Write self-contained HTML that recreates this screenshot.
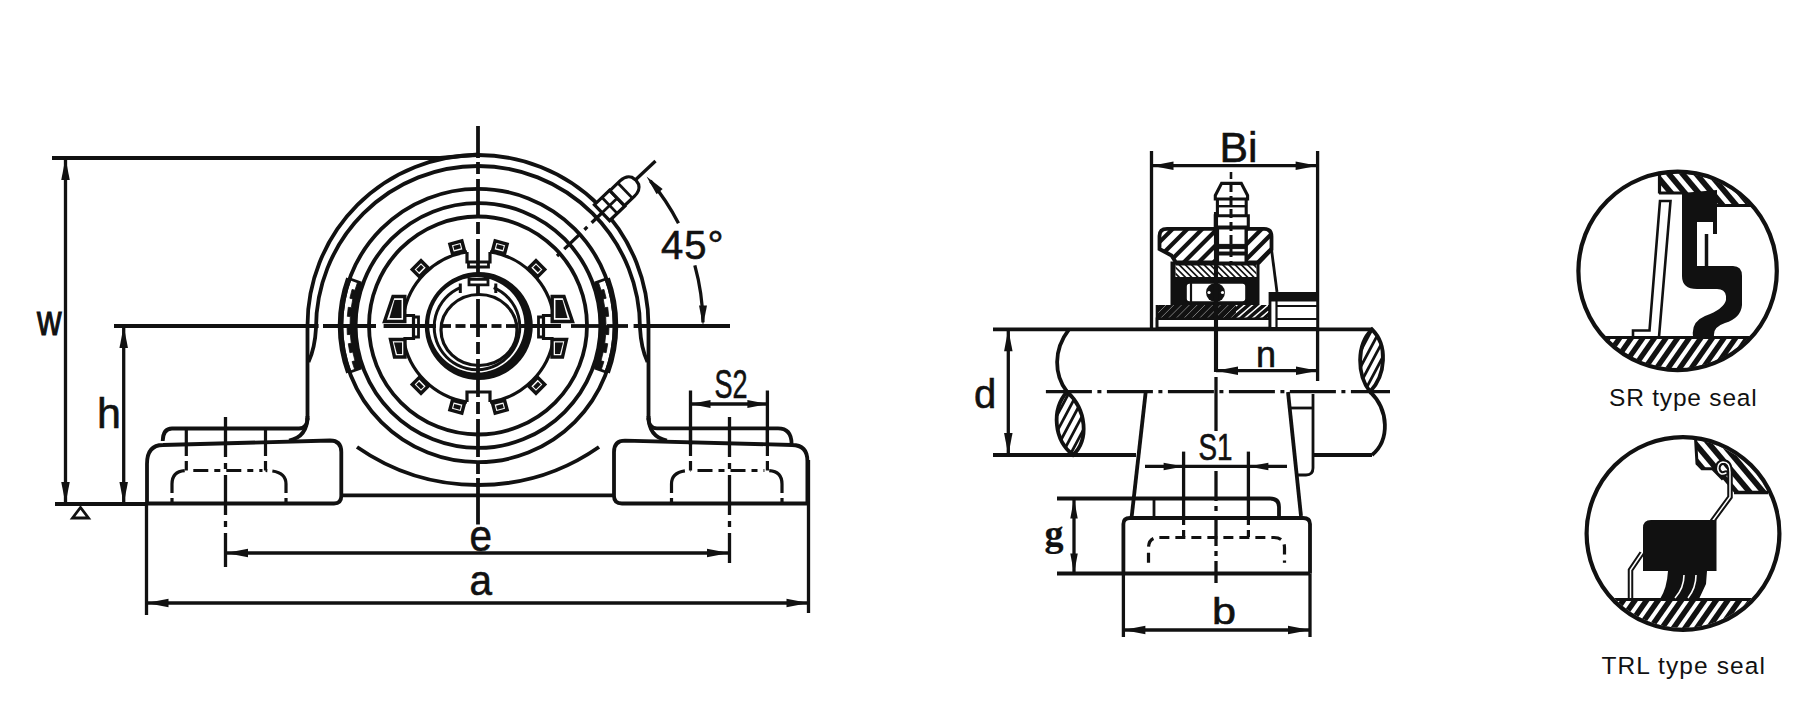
<!DOCTYPE html>
<html><head><meta charset="utf-8"><style>
html,body{margin:0;padding:0;background:#fff;}
svg{display:block;}
</style></head><body>
<svg width="1817" height="713" viewBox="0 0 1817 713" stroke="#111" fill="none" stroke-linecap="butt">
<rect width="1817" height="713" fill="#fff" stroke="none"/>
<defs><pattern id="h1" width="8" height="8" patternUnits="userSpaceOnUse" patternTransform="rotate(45)"><rect width="3.4" height="8" fill="#111"/></pattern><pattern id="h2" width="4.5" height="4.5" patternUnits="userSpaceOnUse" patternTransform="rotate(45)"><rect width="2.6" height="4.5" fill="#111"/></pattern><pattern id="h3" width="10" height="10" patternUnits="userSpaceOnUse" patternTransform="rotate(-50)"><rect width="4" height="10" fill="#111"/></pattern></defs>
<path d="M52,158 L440,158 L478,154.5" stroke-width="3.8" fill="none" />
<line x1="65.5" y1="158" x2="65.5" y2="504" stroke-width="3.3" />
<path d="M65.5,158 L69.75,180 L61.25,180 Z" fill="#111" stroke="none"/>
<path d="M65.5,504 L61.25,482 L69.75,482 Z" fill="#111" stroke="none"/>
<text x="37" y="334.5" font-family="&quot;Liberation Sans&quot;, sans-serif" font-size="43" fill="#111" stroke="#111" stroke-width="1.1" textLength="24.5" lengthAdjust="spacingAndGlyphs">w</text>
<line x1="123.7" y1="326" x2="123.7" y2="504" stroke-width="3.3" />
<path d="M123.7,326 L127.95,348 L119.45,348 Z" fill="#111" stroke="none"/>
<path d="M123.7,504 L119.45,482 L127.95,482 Z" fill="#111" stroke="none"/>
<text x="97" y="427.6" font-family="&quot;Liberation Sans&quot;, sans-serif" font-size="43" fill="#111" stroke="#111" stroke-width="0.6" >h</text>
<line x1="114" y1="326" x2="318.6" y2="326" stroke-width="3.8" />
<line x1="323" y1="326" x2="376" y2="326" stroke-width="3.8" />
<line x1="383.6" y1="326" x2="436" y2="326" stroke-width="3.8" />
<line x1="441" y1="326" x2="451" y2="326" stroke-width="3.8" />
<line x1="455.5" y1="326" x2="465.5" y2="326" stroke-width="3.8" />
<line x1="470" y1="326" x2="487" y2="326" stroke-width="3.8" />
<line x1="491.5" y1="326" x2="501.5" y2="326" stroke-width="3.8" />
<line x1="506" y1="326" x2="516" y2="326" stroke-width="3.8" />
<line x1="520" y1="326" x2="561" y2="326" stroke-width="3.8" />
<line x1="571" y1="326" x2="603" y2="326" stroke-width="3.8" />
<line x1="607" y1="326" x2="628" y2="326" stroke-width="3.8" />
<line x1="633.6" y1="326" x2="730" y2="326" stroke-width="3.8" />
<line x1="55" y1="504" x2="147" y2="504" stroke-width="3.8" />
<path d="M72.5,518 L80.5,507.5 L88.5,518 Z" stroke-width="2.8" fill="none" />
<line x1="478" y1="126" x2="478" y2="158" stroke-width="3.8" />
<line x1="478" y1="162" x2="478" y2="480" stroke-width="3.8" stroke-dasharray="12 5 38 5"/>
<line x1="478" y1="478" x2="478" y2="524.5" stroke-width="3.8" />
<path d="M307.5,420 L307.5,325.5 A170.5,170.5 0 0 1 648.5,325.5 L648.5,420" stroke-width="3.8" fill="none" />
<path d="M308.5,362 Q315,348 316,328 A162,162 0 0 1 640,328 Q641,348 647.5,362" stroke-width="3.8" fill="none" />
<circle cx="478" cy="325.5" r="136.7" stroke-width="3.8" fill="none" />
<circle cx="478" cy="325.5" r="122.4" stroke-width="3.8" fill="none" />
<circle cx="478" cy="325.5" r="109" stroke-width="3.8" fill="none" />
<path d="M357,447 A211.6,211.6 0 0 0 599,447" stroke-width="3.8" fill="none" />
<path d="M307.5,416 Q307.5,437 289,440.5" stroke-width="3.8" fill="none" />
<path d="M648.5,416 Q648.5,437 667,440.5" stroke-width="3.8" fill="none" />
<path d="M307.5,418 Q307.5,428.5 299,428.5 L172,428.5 Q163,428.5 162.7,441" stroke-width="3.8" fill="none" />
<path d="M648.5,418 Q648.5,428.4 657,428.4 L778,428.4 Q791.5,428.4 791.6,444" stroke-width="3.8" fill="none" />
<path d="M147,504 L147,464 Q147,445 163,445 L330,440.5 Q341.3,440.5 341.3,452 L341.3,496 Q341.3,503.5 334,503.5 L147,503.5" stroke-width="3.8" fill="none" />
<path d="M614,496 L614,452 Q614,440.6 625,440.6 L792,445 Q807.4,445 807.4,461 L807.4,503.5 L622,503.5 Q614,503.5 614,496" stroke-width="3.8" fill="none" />
<line x1="341" y1="495.3" x2="614" y2="495.3" stroke-width="3.8" />
<line x1="186.3" y1="428.5" x2="186.3" y2="456" stroke-width="3.1999999999999997" />
<line x1="265.5" y1="428.5" x2="265.5" y2="456" stroke-width="3.1999999999999997" />
<line x1="186.3" y1="461" x2="186.3" y2="470.5" stroke-width="3.1999999999999997" />
<line x1="265.5" y1="461" x2="265.5" y2="470.5" stroke-width="3.1999999999999997" />
<path d="M172,503 L172,484 Q172,470.5 186.3,470.5" stroke-width="3.1999999999999997" fill="none" stroke-dasharray="5 5 30"/>
<path d="M286,503 L286,484 Q286,470.5 265.5,470.5" stroke-width="3.1999999999999997" fill="none" stroke-dasharray="5 5 30"/>
<path d="M193.3,470.5 L262.5,470.5" stroke-width="3.1999999999999997" fill="none" stroke-dasharray="15 6 6 6"/>
<line x1="690.5" y1="428.5" x2="690.5" y2="456" stroke-width="3.1999999999999997" />
<line x1="767.4" y1="428.5" x2="767.4" y2="456" stroke-width="3.1999999999999997" />
<line x1="690.5" y1="461" x2="690.5" y2="470.5" stroke-width="3.1999999999999997" />
<line x1="767.4" y1="461" x2="767.4" y2="470.5" stroke-width="3.1999999999999997" />
<path d="M671.5,503 L671.5,484 Q671.5,470.5 690.5,470.5" stroke-width="3.1999999999999997" fill="none" stroke-dasharray="5 5 30"/>
<path d="M782,503 L782,484 Q782,470.5 767.4,470.5" stroke-width="3.1999999999999997" fill="none" stroke-dasharray="5 5 30"/>
<path d="M697.5,470.5 L764.4,470.5" stroke-width="3.1999999999999997" fill="none" stroke-dasharray="15 6 6 6"/>
<line x1="225.5" y1="417" x2="225.5" y2="567" stroke-width="3.3" stroke-dasharray="40 6 6 6"/>
<line x1="729.5" y1="417" x2="729.5" y2="563" stroke-width="3.3" stroke-dasharray="40 6 6 6"/>
<line x1="226" y1="553" x2="729" y2="553" stroke-width="3.3" />
<path d="M226,553 L248,548.75 L248,557.25 Z" fill="#111" stroke="none"/>
<path d="M729,553 L707,557.25 L707,548.75 Z" fill="#111" stroke="none"/>
<text x="469.5" y="551" font-family="&quot;Liberation Sans&quot;, sans-serif" font-size="44" fill="#111" stroke="#111" stroke-width="0.6" textLength="22.5" lengthAdjust="spacingAndGlyphs">e</text>
<line x1="146.5" y1="504" x2="146.5" y2="615" stroke-width="3.3" />
<line x1="808.5" y1="460" x2="808.5" y2="613" stroke-width="3.3" />
<line x1="146.5" y1="603" x2="808.5" y2="603" stroke-width="3.3" />
<path d="M146.5,603 L168.5,598.75 L168.5,607.25 Z" fill="#111" stroke="none"/>
<path d="M808.5,603 L786.5,607.25 L786.5,598.75 Z" fill="#111" stroke="none"/>
<text x="469.5" y="594.5" font-family="&quot;Liberation Sans&quot;, sans-serif" font-size="43" fill="#111" stroke="#111" stroke-width="0.6" textLength="22.5" lengthAdjust="spacingAndGlyphs">a</text>
<line x1="690.5" y1="390.5" x2="690.5" y2="445" stroke-width="3.3" />
<line x1="767.4" y1="390.5" x2="767.4" y2="445" stroke-width="3.3" />
<line x1="690.5" y1="404" x2="767.4" y2="404" stroke-width="3.3" />
<path d="M690.5,404 L710.5,400 L710.5,408 Z" fill="#111" stroke="none"/>
<path d="M767.4,404 L747.4,408 L747.4,400 Z" fill="#111" stroke="none"/>
<text x="714.5" y="397.5" font-family="&quot;Liberation Sans&quot;, sans-serif" font-size="40" fill="#111" stroke="#111" stroke-width="0.6" textLength="33" lengthAdjust="spacingAndGlyphs">S2</text>
<path d="M607.21,372.53 A137.5,137.5 0 0 0 607.21,278.47" stroke-width="5.5" fill="none" />
<path d="M601.1,370.3 L603.93,361.61 L601.04,360.78 L603.2,352.11 L606.14,352.74 L607.73,343.73 L604.75,343.31 L605.69,334.43 L608.68,334.64 L609,325.5 L606,325.5 L605.69,316.57 L608.68,316.36 L607.73,307.27 L604.75,307.69 L603.2,298.89 L606.14,298.26 L603.93,289.39 L601.04,290.22 L598.28,281.72 L593.58,283.43 L596.24,291.6 L598.31,299.93 L599.8,308.38 L600.7,316.92 L601,325.5 L600.7,334.08 L599.8,342.62 L598.31,351.07 L596.24,359.4 L593.58,367.57 Z" stroke-width="0.8" fill="#111" />
<line x1="605.8" y1="372.01" x2="594.52" y2="367.91" stroke-width="2.8" />
<line x1="605.8" y1="278.99" x2="594.52" y2="283.09" stroke-width="2.8" />
<path d="M348.79,372.53 A137.5,137.5 0 0 1 348.79,278.47" stroke-width="5.5" fill="none" />
<path d="M354.9,370.3 L352.07,361.61 L354.96,360.78 L352.8,352.11 L349.86,352.74 L348.27,343.73 L351.25,343.31 L350.31,334.43 L347.32,334.64 L347,325.5 L350,325.5 L350.31,316.57 L347.32,316.36 L348.27,307.27 L351.25,307.69 L352.8,298.89 L349.86,298.26 L352.07,289.39 L354.96,290.22 L357.72,281.72 L362.42,283.43 L359.76,291.6 L357.69,299.93 L356.2,308.38 L355.3,316.92 L355,325.5 L355.3,334.08 L356.2,342.62 L357.69,351.07 L359.76,359.4 L362.42,367.57 Z" stroke-width="0.8" fill="#111" />
<line x1="350.2" y1="372.01" x2="361.48" y2="367.91" stroke-width="2.8" />
<line x1="350.2" y1="278.99" x2="361.48" y2="283.09" stroke-width="2.8" />
<path d="M553.62,315.5 A76,76 0 0 0 490,251.88" stroke-width="3.1999999999999997" fill="none" />
<path d="M467,251.88 A76,76 0 0 0 403.38,315.5" stroke-width="3.1999999999999997" fill="none" />
<path d="M403.38,338.5 A76,76 0 0 0 467,402.12" stroke-width="3.1999999999999997" fill="none" />
<path d="M490,402.12 A76,76 0 0 0 553.62,338.5" stroke-width="3.1999999999999997" fill="none" />
<path d="M553.62,338.5 L543.5,338.5 L543.5,315.5 L553.62,315.5" stroke-width="3.1999999999999997" fill="none" />
<path d="M543.5,337 L538.5,337 L538.5,317 L543.5,317" stroke-width="2.8" fill="none" />
<path d="M490,251.88 L490,262 L467,262 L467,251.88" stroke-width="3.1999999999999997" fill="none" />
<path d="M488.5,262 L488.5,267 L468.5,267 L468.5,262" stroke-width="2.8" fill="none" />
<path d="M403.38,315.5 L413.5,315.5 L413.5,338.5 L403.38,338.5" stroke-width="3.1999999999999997" fill="none" />
<path d="M413.5,317 L418.5,317 L418.5,337 L413.5,337" stroke-width="2.8" fill="none" />
<path d="M467,402.12 L467,392 L490,392 L490,402.12" stroke-width="3.1999999999999997" fill="none" />
<path d="M504.55,253.75 L507.14,244.09 L495.16,240.88 L492.57,250.54 Z" stroke-width="3.4" fill="#fff" />
<path d="M502.67,249.93 L503.71,246.07 L497.14,244.31 L496.1,248.17 Z" stroke-width="0.1" fill="#111" />
<path d="M464.43,250.54 L461.84,240.88 L449.86,244.09 L452.45,253.75 Z" stroke-width="3.4" fill="#fff" />
<path d="M460.9,248.17 L459.86,244.31 L453.29,246.07 L454.33,249.93 Z" stroke-width="0.1" fill="#111" />
<path d="M452.45,400.25 L449.86,409.91 L461.84,413.12 L464.43,403.46 Z" stroke-width="3.4" fill="#fff" />
<path d="M454.33,404.07 L453.29,407.93 L459.86,409.69 L460.9,405.83 Z" stroke-width="0.1" fill="#111" />
<path d="M492.57,403.46 L495.16,413.12 L507.14,409.91 L504.55,400.25 Z" stroke-width="3.4" fill="#fff" />
<path d="M496.1,405.83 L497.14,409.69 L503.71,407.93 L502.67,404.07 Z" stroke-width="0.1" fill="#111" />
<path d="M537.68,276.58 L544.76,269.51 L535.99,260.74 L528.92,267.82 Z" stroke-width="3.4" fill="#fff" />
<path d="M537.97,272.34 L540.8,269.51 L535.99,264.7 L533.16,267.53 Z" stroke-width="0.1" fill="#111" />
<path d="M428.08,267.82 L421.01,260.74 L412.24,269.51 L419.32,276.58 Z" stroke-width="3.4" fill="#fff" />
<path d="M423.84,267.53 L421.01,264.7 L416.2,269.51 L419.03,272.34 Z" stroke-width="0.1" fill="#111" />
<path d="M419.32,377.42 L412.24,384.49 L421.01,393.26 L428.08,386.18 Z" stroke-width="3.4" fill="#fff" />
<path d="M419.03,381.66 L416.2,384.49 L421.01,389.3 L423.84,386.47 Z" stroke-width="0.1" fill="#111" />
<path d="M528.92,386.18 L535.99,393.26 L544.76,384.49 L537.68,377.42 Z" stroke-width="3.4" fill="#fff" />
<path d="M533.16,386.47 L535.99,389.3 L540.8,384.49 L537.97,381.66 Z" stroke-width="0.1" fill="#111" />
<path d="M393,296.5 L404.8,296.5 L404.8,321.5 L384.5,321.5 Z" stroke-width="3.4" fill="#fff" />
<path d="M394.5,300 L401.5,300 L401.5,318 L389.5,318 Z" stroke-width="0.1" fill="#111" />
<path d="M390.5,339.5 L405,339.5 L405,357 L394.5,357 Z" stroke-width="3.4" fill="#fff" />
<path d="M394,342.5 L402,342.5 L402,354 L397,354 Z" stroke-width="0.1" fill="#111" />
<path d="M564,296.5 L552.2,296.5 L552.2,321.5 L572.5,321.5 Z" stroke-width="3.4" fill="#fff" />
<path d="M562.5,300 L555.5,300 L555.5,318 L567.5,318 Z" stroke-width="0.1" fill="#111" />
<path d="M566.5,339.5 L552,339.5 L552,357 L562.5,357 Z" stroke-width="3.4" fill="#fff" />
<path d="M563,342.5 L555,342.5 L555,354 L560,354 Z" stroke-width="0.1" fill="#111" />
<path d="M424.8,326.1 A53.9,53.9 0 1 0 532.8,326.1 A53.9,53.9 0 1 0 424.8,326.1 Z M429.2,324.9 A47.6,47.6 0 1 1 524.4,324.9 A47.6,47.6 0 1 1 429.2,324.9 Z" fill="#111" fill-rule="evenodd" stroke="none"/>
<path d="M460.28,287.6 A42.8,42.8 0 1 0 493.72,287.6" stroke-width="3" fill="none" />
<line x1="460.3" y1="283.5" x2="460.3" y2="293" stroke-width="3" />
<line x1="495.8" y1="283.5" x2="495.8" y2="293" stroke-width="3" />
<ellipse cx="479" cy="330" rx="38" ry="35.5" stroke-width="3.2" fill="none"/>
<path d="M469,279.3 L488,279.3 L488,284.8 L469,284.8 Z" stroke-width="2.8" fill="#fff" />
<line x1="557" y1="256" x2="606" y2="209" stroke-width="3.3" stroke-dasharray="4 6 22 6"/>
<line x1="630" y1="185" x2="655.5" y2="161" stroke-width="3.3" />
<g transform="translate(621.5,194) rotate(-43.8)">
<path d="M-27,-11 L-6,-11 L-6,11 L-27,11 Z" stroke-width="3.1999999999999997" fill="#fff" />
<path d="M-6,-10.5 L8,-10.5 Q16,-10.5 19,-5 L20,0 L19,5 Q16,10.5 8,10.5 L-6,10.5 Z" stroke-width="3.1999999999999997" fill="#fff" />
<line x1="-16.5" y1="-11" x2="-16.5" y2="11" stroke-width="2.8" />
<line x1="5" y1="-10.5" x2="5" y2="10.5" stroke-width="2.8" />
<line x1="-27" y1="0" x2="-6" y2="0" stroke-width="2.8" />
</g>
<path d="M650.36,180.87 A225,225 0 0 1 678.48,223.35" stroke-width="3.3" fill="none" />
<path d="M694.82,265.37 A225,225 0 0 1 702.98,322.36" stroke-width="3.3" fill="none" />
<path d="M646.52,176.41 L662.66,188.88 L656.62,194.13 Z" fill="#111" stroke="none"/>
<path d="M703,325.5 L699,305.5 L707,305.5 Z" fill="#111" stroke="none"/>
<text x="661" y="258.5" font-family="&quot;Liberation Sans&quot;, sans-serif" font-size="40" fill="#111" stroke="#111" stroke-width="0.6" letter-spacing="1">45°</text>
<line x1="1151.5" y1="151" x2="1151.5" y2="330" stroke-width="3.3" />
<line x1="1317.6" y1="151" x2="1317.6" y2="381" stroke-width="3.3" />
<line x1="1151.5" y1="165.7" x2="1317.6" y2="165.7" stroke-width="3.3" />
<path d="M1151.5,165.7 L1173.5,161.45 L1173.5,169.95 Z" fill="#111" stroke="none"/>
<path d="M1317.6,165.7 L1295.6,169.95 L1295.6,161.45 Z" fill="#111" stroke="none"/>
<text x="1219.5" y="162" font-family="&quot;Liberation Sans&quot;, sans-serif" font-size="42" fill="#111" stroke="#111" stroke-width="0.6" textLength="38" lengthAdjust="spacingAndGlyphs">Bi</text>
<line x1="993" y1="329.3" x2="1372" y2="329.3" stroke-width="3.8" />
<line x1="993" y1="455" x2="1136" y2="455" stroke-width="3.8" />
<line x1="1314" y1="455" x2="1372" y2="455" stroke-width="3.8" />
<line x1="1043" y1="391.7" x2="1390" y2="391.7" stroke-width="3.3" stroke-dasharray="46 5.5 4 5.5" stroke-dashoffset="58.1"/>
<line x1="1008.3" y1="329.3" x2="1008.3" y2="455" stroke-width="3.3" />
<path d="M1008.3,329.3 L1012.55,351.3 L1004.05,351.3 Z" fill="#111" stroke="none"/>
<path d="M1008.3,455 L1004.05,433 L1012.55,433 Z" fill="#111" stroke="none"/>
<text x="974" y="408" font-family="&quot;Liberation Sans&quot;, sans-serif" font-size="40" fill="#111" stroke="#111" stroke-width="0.6" >d</text>
<line x1="1216" y1="370.7" x2="1318" y2="370.7" stroke-width="3.3" />
<path d="M1216,370.7 L1238,366.45 L1238,374.95 Z" fill="#111" stroke="none"/>
<path d="M1318,370.7 L1296,374.95 L1296,366.45 Z" fill="#111" stroke="none"/>
<text x="1256" y="366.5" font-family="&quot;Liberation Sans&quot;, sans-serif" font-size="36" fill="#111" stroke="#111" stroke-width="0.6" >n</text>
<line x1="1216" y1="377" x2="1216" y2="431" stroke-width="3.3" />
<line x1="1216" y1="471" x2="1216" y2="583" stroke-width="3.3" stroke-dasharray="30 5 5 5"/>
<line x1="1145.7" y1="392" x2="1131.7" y2="516.4" stroke-width="3.8" />
<line x1="1288" y1="392" x2="1301" y2="516" stroke-width="3.8" />
<path d="M1123.4,573.5 L1123.4,524 Q1123.4,518 1130,518 L1303,518 Q1310,518 1310,524 L1310,573.5" stroke-width="3.8" fill="none" />
<line x1="1057" y1="573.5" x2="1310" y2="573.5" stroke-width="3.8" />
<path d="M1057,498.5 L1270,498.5 Q1279,498.5 1279,507 L1279,516" stroke-width="3.8" fill="none" />
<line x1="1154" y1="498.5" x2="1154" y2="516" stroke-width="2.8" />
<line x1="1074" y1="498.5" x2="1074" y2="573.5" stroke-width="3.3" />
<path d="M1074,498.5 L1077.75,518.5 L1070.25,518.5 Z" fill="#111" stroke="none"/>
<path d="M1074,573.5 L1070.25,553.5 L1077.75,553.5 Z" fill="#111" stroke="none"/>
<text x="1044.5" y="545.5" font-family="&quot;Liberation Serif&quot;, serif" font-size="38" fill="#111" stroke="#111" stroke-width="0.2" font-weight="bold">g</text>
<line x1="1183.6" y1="451.6" x2="1183.6" y2="518" stroke-width="3.3" />
<line x1="1248.4" y1="451.6" x2="1248.4" y2="518" stroke-width="3.3" />
<line x1="1145" y1="466.4" x2="1287" y2="466.4" stroke-width="3.3" />
<path d="M1183.6,466.4 L1163.6,470.15 L1163.6,462.65 Z" fill="#111" stroke="none"/>
<path d="M1248.4,466.4 L1268.4,462.65 L1268.4,470.15 Z" fill="#111" stroke="none"/>
<text x="1198.5" y="459.5" font-family="&quot;Liberation Sans&quot;, sans-serif" font-size="36" fill="#111" stroke="#111" stroke-width="0.6" textLength="34" lengthAdjust="spacingAndGlyphs">S1</text>
<path d="M1183.6,518 L1183.6,537.5 M1248.4,518 L1248.4,537.5" stroke-width="3.1999999999999997" fill="none" stroke-dasharray="7 5"/>
<path d="M1148.5,562.7 L1148.5,548 Q1148.5,537.5 1159,537.5 L1274,537.5 Q1284.5,537.5 1284.5,548 L1284.5,562.7" stroke-width="3.1999999999999997" fill="none" stroke-dasharray="10 6"/>
<line x1="1123.4" y1="573.5" x2="1123.4" y2="637" stroke-width="3.3" />
<line x1="1310" y1="573.5" x2="1310" y2="637" stroke-width="3.3" />
<line x1="1123.4" y1="630" x2="1310" y2="630" stroke-width="3.3" />
<path d="M1123.4,630 L1145.4,625.75 L1145.4,634.25 Z" fill="#111" stroke="none"/>
<path d="M1310,630 L1288,634.25 L1288,625.75 Z" fill="#111" stroke="none"/>
<text x="1212" y="624" font-family="&quot;Liberation Sans&quot;, sans-serif" font-size="37" fill="#111" stroke="#111" stroke-width="0.6" textLength="24" lengthAdjust="spacingAndGlyphs">b</text>
<line x1="1313" y1="394" x2="1313" y2="468" stroke-width="2.8" />
<line x1="1290" y1="408" x2="1312" y2="408" stroke-width="2.8" />
<path d="M1298,475 L1306,475 Q1313,475 1313,468" stroke-width="2.8" fill="none" />
<defs><pattern id="h4" width="5" height="5" patternUnits="userSpaceOnUse" patternTransform="rotate(-45)"><rect width="5" height="5" fill="#fff"/><rect width="2.4" height="5" fill="#111"/></pattern><pattern id="h5" width="6" height="6" patternUnits="userSpaceOnUse" patternTransform="rotate(45)"><rect width="6" height="6" fill="#111"/><rect width="1.3" height="6" fill="#fff"/></pattern></defs>
<rect x="1171" y="262" width="88" height="44" fill="#111"/>
<clipPath id="hc1"><path d="M1175.5,264 L1256.5,264 L1256.5,277 L1175.5,277 Z"/></clipPath>
<g clip-path="url(#hc1)">
<rect x="1175" y="263" width="82" height="15" fill="#fff" stroke="none"/>
<line x1="1219.28" y1="149.33" x2="1337.17" y2="267.22" stroke-width="1.7" stroke="#111"/>
<line x1="1216.17" y1="152.44" x2="1334.06" y2="270.33" stroke-width="1.7" stroke="#111"/>
<line x1="1213.06" y1="155.55" x2="1330.95" y2="273.44" stroke-width="1.7" stroke="#111"/>
<line x1="1209.95" y1="158.66" x2="1327.84" y2="276.55" stroke-width="1.7" stroke="#111"/>
<line x1="1206.84" y1="161.77" x2="1324.73" y2="279.66" stroke-width="1.7" stroke="#111"/>
<line x1="1203.72" y1="164.89" x2="1321.61" y2="282.78" stroke-width="1.7" stroke="#111"/>
<line x1="1200.61" y1="168" x2="1318.5" y2="285.89" stroke-width="1.7" stroke="#111"/>
<line x1="1197.5" y1="171.11" x2="1315.39" y2="289" stroke-width="1.7" stroke="#111"/>
<line x1="1194.39" y1="174.22" x2="1312.28" y2="292.11" stroke-width="1.7" stroke="#111"/>
<line x1="1191.28" y1="177.33" x2="1309.17" y2="295.22" stroke-width="1.7" stroke="#111"/>
<line x1="1188.17" y1="180.44" x2="1306.06" y2="298.33" stroke-width="1.7" stroke="#111"/>
<line x1="1185.06" y1="183.55" x2="1302.95" y2="301.44" stroke-width="1.7" stroke="#111"/>
<line x1="1181.95" y1="186.66" x2="1299.84" y2="304.55" stroke-width="1.7" stroke="#111"/>
<line x1="1178.83" y1="189.78" x2="1296.72" y2="307.67" stroke-width="1.7" stroke="#111"/>
<line x1="1175.72" y1="192.89" x2="1293.61" y2="310.78" stroke-width="1.7" stroke="#111"/>
<line x1="1172.61" y1="196" x2="1290.5" y2="313.89" stroke-width="1.7" stroke="#111"/>
<line x1="1169.5" y1="199.11" x2="1287.39" y2="317" stroke-width="1.7" stroke="#111"/>
<line x1="1166.39" y1="202.22" x2="1284.28" y2="320.11" stroke-width="1.7" stroke="#111"/>
<line x1="1163.28" y1="205.33" x2="1281.17" y2="323.22" stroke-width="1.7" stroke="#111"/>
<line x1="1160.17" y1="208.44" x2="1278.06" y2="326.33" stroke-width="1.7" stroke="#111"/>
<line x1="1157.06" y1="211.56" x2="1274.94" y2="329.44" stroke-width="1.7" stroke="#111"/>
<line x1="1153.94" y1="214.67" x2="1271.83" y2="332.56" stroke-width="1.7" stroke="#111"/>
<line x1="1150.83" y1="217.78" x2="1268.72" y2="335.67" stroke-width="1.7" stroke="#111"/>
<line x1="1147.72" y1="220.89" x2="1265.61" y2="338.78" stroke-width="1.7" stroke="#111"/>
<line x1="1144.61" y1="224" x2="1262.5" y2="341.89" stroke-width="1.7" stroke="#111"/>
<line x1="1141.5" y1="227.11" x2="1259.39" y2="345" stroke-width="1.7" stroke="#111"/>
<line x1="1138.39" y1="230.22" x2="1256.28" y2="348.11" stroke-width="1.7" stroke="#111"/>
<line x1="1135.28" y1="233.33" x2="1253.17" y2="351.22" stroke-width="1.7" stroke="#111"/>
<line x1="1132.16" y1="236.45" x2="1250.05" y2="354.34" stroke-width="1.7" stroke="#111"/>
<line x1="1129.05" y1="239.56" x2="1246.94" y2="357.45" stroke-width="1.7" stroke="#111"/>
<line x1="1125.94" y1="242.67" x2="1243.83" y2="360.56" stroke-width="1.7" stroke="#111"/>
<line x1="1122.83" y1="245.78" x2="1240.72" y2="363.67" stroke-width="1.7" stroke="#111"/>
<line x1="1119.72" y1="248.89" x2="1237.61" y2="366.78" stroke-width="1.7" stroke="#111"/>
<line x1="1116.61" y1="252" x2="1234.5" y2="369.89" stroke-width="1.7" stroke="#111"/>
<line x1="1113.5" y1="255.11" x2="1231.39" y2="373" stroke-width="1.7" stroke="#111"/>
<line x1="1110.39" y1="258.22" x2="1228.28" y2="376.11" stroke-width="1.7" stroke="#111"/>
<line x1="1107.27" y1="261.34" x2="1225.16" y2="379.23" stroke-width="1.7" stroke="#111"/>
<line x1="1104.16" y1="264.45" x2="1222.05" y2="382.34" stroke-width="1.7" stroke="#111"/>
<line x1="1101.05" y1="267.56" x2="1218.94" y2="385.45" stroke-width="1.7" stroke="#111"/>
<line x1="1097.94" y1="270.67" x2="1215.83" y2="388.56" stroke-width="1.7" stroke="#111"/>
<line x1="1094.83" y1="273.78" x2="1212.72" y2="391.67" stroke-width="1.7" stroke="#111"/>
</g>
<line x1="1175.5" y1="264.5" x2="1256.5" y2="264.5" stroke-width="2" />
<rect x="1185.5" y="282.5" width="61" height="20" rx="4" fill="#fff" stroke="#111" stroke-width="2.6"/>
<line x1="1191" y1="283" x2="1191" y2="302" stroke-width="2.2" />
<circle cx="1215.5" cy="292.5" r="9.5" stroke-width="0" fill="#111" />
<circle cx="1209" cy="292.5" r="1.6" stroke-width="0" fill="#fff" />
<circle cx="1222.5" cy="292.5" r="1.6" stroke-width="0" fill="#fff" />
<clipPath id="hc2"><path d="M1159.5,249 L1159.5,236 Q1159.5,228.8 1167,228.8 L1264,228.8 Q1271.5,228.8 1271.5,236.5 L1271.5,249.5 L1259,262.5 L1176,262.5 L1171.5,255.5 Z"/></clipPath>
<g clip-path="url(#hc2)">
<line x1="1021.22" y1="231.89" x2="1201.89" y2="51.22" stroke-width="4.2" stroke="#111"/>
<line x1="1028.64" y1="239.32" x2="1209.32" y2="58.64" stroke-width="4.2" stroke="#111"/>
<line x1="1036.07" y1="246.74" x2="1216.74" y2="66.07" stroke-width="4.2" stroke="#111"/>
<line x1="1043.49" y1="254.17" x2="1224.17" y2="73.49" stroke-width="4.2" stroke="#111"/>
<line x1="1050.92" y1="261.59" x2="1231.59" y2="80.92" stroke-width="4.2" stroke="#111"/>
<line x1="1058.34" y1="269.02" x2="1239.02" y2="88.34" stroke-width="4.2" stroke="#111"/>
<line x1="1065.76" y1="276.44" x2="1246.44" y2="95.76" stroke-width="4.2" stroke="#111"/>
<line x1="1073.19" y1="283.87" x2="1253.87" y2="103.19" stroke-width="4.2" stroke="#111"/>
<line x1="1080.61" y1="291.29" x2="1261.29" y2="110.61" stroke-width="4.2" stroke="#111"/>
<line x1="1088.04" y1="298.72" x2="1268.72" y2="118.04" stroke-width="4.2" stroke="#111"/>
<line x1="1095.46" y1="306.14" x2="1276.14" y2="125.46" stroke-width="4.2" stroke="#111"/>
<line x1="1102.89" y1="313.56" x2="1283.56" y2="132.89" stroke-width="4.2" stroke="#111"/>
<line x1="1110.31" y1="320.99" x2="1290.99" y2="140.31" stroke-width="4.2" stroke="#111"/>
<line x1="1117.74" y1="328.41" x2="1298.41" y2="147.74" stroke-width="4.2" stroke="#111"/>
<line x1="1125.16" y1="335.84" x2="1305.84" y2="155.16" stroke-width="4.2" stroke="#111"/>
<line x1="1132.59" y1="343.26" x2="1313.26" y2="162.59" stroke-width="4.2" stroke="#111"/>
<line x1="1140.01" y1="350.69" x2="1320.69" y2="170.01" stroke-width="4.2" stroke="#111"/>
<line x1="1147.44" y1="358.11" x2="1328.11" y2="177.44" stroke-width="4.2" stroke="#111"/>
<line x1="1154.86" y1="365.54" x2="1335.54" y2="184.86" stroke-width="4.2" stroke="#111"/>
<line x1="1162.28" y1="372.96" x2="1342.96" y2="192.28" stroke-width="4.2" stroke="#111"/>
<line x1="1169.71" y1="380.39" x2="1350.39" y2="199.71" stroke-width="4.2" stroke="#111"/>
<line x1="1177.13" y1="387.81" x2="1357.81" y2="207.13" stroke-width="4.2" stroke="#111"/>
<line x1="1184.56" y1="395.24" x2="1365.24" y2="214.56" stroke-width="4.2" stroke="#111"/>
<line x1="1191.98" y1="402.66" x2="1372.66" y2="221.98" stroke-width="4.2" stroke="#111"/>
<line x1="1199.41" y1="410.08" x2="1380.08" y2="229.41" stroke-width="4.2" stroke="#111"/>
<line x1="1206.83" y1="417.51" x2="1387.51" y2="236.83" stroke-width="4.2" stroke="#111"/>
<line x1="1214.26" y1="424.93" x2="1394.93" y2="244.26" stroke-width="4.2" stroke="#111"/>
<line x1="1221.68" y1="432.36" x2="1402.36" y2="251.68" stroke-width="4.2" stroke="#111"/>
<line x1="1229.11" y1="439.78" x2="1409.78" y2="259.11" stroke-width="4.2" stroke="#111"/>
</g>
<path d="M1159.5,249 L1159.5,236 Q1159.5,228.8 1167,228.8 L1264,228.8 Q1271.5,228.8 1271.5,236.5 L1271.5,249.5 L1259,262.5 L1176,262.5 L1171.5,255.5 Z" stroke-width="3.8" fill="none" />
<line x1="1271.5" y1="249.5" x2="1277" y2="292" stroke-width="2.8" />
<clipPath id="hc3"><path d="M1157,305 L1270,305 L1270,318.5 L1157,318.5 Z"/></clipPath>
<g clip-path="url(#hc3)">
<rect x="1157" y="305" width="113" height="14" fill="#111" stroke="none"/>
<line x1="1047.43" y1="306.95" x2="1208.45" y2="145.93" stroke-width="0.9" stroke="#888"/>
<line x1="1051.32" y1="310.84" x2="1212.34" y2="149.82" stroke-width="0.9" stroke="#888"/>
<line x1="1055.2" y1="314.73" x2="1216.23" y2="153.7" stroke-width="0.9" stroke="#888"/>
<line x1="1059.09" y1="318.62" x2="1220.12" y2="157.59" stroke-width="0.9" stroke="#888"/>
<line x1="1062.98" y1="322.51" x2="1224.01" y2="161.48" stroke-width="0.9" stroke="#888"/>
<line x1="1066.87" y1="326.4" x2="1227.9" y2="165.37" stroke-width="0.9" stroke="#888"/>
<line x1="1070.76" y1="330.29" x2="1231.79" y2="169.26" stroke-width="0.9" stroke="#888"/>
<line x1="1074.65" y1="334.18" x2="1235.68" y2="173.15" stroke-width="0.9" stroke="#888"/>
<line x1="1078.54" y1="338.07" x2="1239.57" y2="177.04" stroke-width="0.9" stroke="#888"/>
<line x1="1082.43" y1="341.96" x2="1243.46" y2="180.93" stroke-width="0.9" stroke="#888"/>
<line x1="1086.32" y1="345.84" x2="1247.34" y2="184.82" stroke-width="0.9" stroke="#888"/>
<line x1="1090.21" y1="349.73" x2="1251.23" y2="188.71" stroke-width="0.9" stroke="#888"/>
<line x1="1094.1" y1="353.62" x2="1255.12" y2="192.6" stroke-width="0.9" stroke="#888"/>
<line x1="1097.98" y1="357.51" x2="1259.01" y2="196.48" stroke-width="0.9" stroke="#888"/>
<line x1="1101.87" y1="361.4" x2="1262.9" y2="200.37" stroke-width="0.9" stroke="#888"/>
<line x1="1105.76" y1="365.29" x2="1266.79" y2="204.26" stroke-width="0.9" stroke="#888"/>
<line x1="1109.65" y1="369.18" x2="1270.68" y2="208.15" stroke-width="0.9" stroke="#888"/>
<line x1="1113.54" y1="373.07" x2="1274.57" y2="212.04" stroke-width="0.9" stroke="#888"/>
<line x1="1117.43" y1="376.96" x2="1278.46" y2="215.93" stroke-width="0.9" stroke="#888"/>
<line x1="1121.32" y1="380.85" x2="1282.35" y2="219.82" stroke-width="0.9" stroke="#888"/>
<line x1="1125.21" y1="384.74" x2="1286.24" y2="223.71" stroke-width="0.9" stroke="#888"/>
<line x1="1129.1" y1="388.62" x2="1290.12" y2="227.6" stroke-width="0.9" stroke="#888"/>
<line x1="1132.99" y1="392.51" x2="1294.01" y2="231.49" stroke-width="0.9" stroke="#888"/>
<line x1="1136.88" y1="396.4" x2="1297.9" y2="235.38" stroke-width="0.9" stroke="#888"/>
<line x1="1140.76" y1="400.29" x2="1301.79" y2="239.26" stroke-width="0.9" stroke="#888"/>
<line x1="1144.65" y1="404.18" x2="1305.68" y2="243.15" stroke-width="0.9" stroke="#888"/>
<line x1="1148.54" y1="408.07" x2="1309.57" y2="247.04" stroke-width="0.9" stroke="#888"/>
<line x1="1152.43" y1="411.96" x2="1313.46" y2="250.93" stroke-width="0.9" stroke="#888"/>
<line x1="1156.32" y1="415.85" x2="1317.35" y2="254.82" stroke-width="0.9" stroke="#888"/>
<line x1="1160.21" y1="419.74" x2="1321.24" y2="258.71" stroke-width="0.9" stroke="#888"/>
<line x1="1164.1" y1="423.63" x2="1325.13" y2="262.6" stroke-width="0.9" stroke="#888"/>
<line x1="1167.99" y1="427.52" x2="1329.02" y2="266.49" stroke-width="0.9" stroke="#888"/>
<line x1="1171.88" y1="431.4" x2="1332.9" y2="270.38" stroke-width="0.9" stroke="#888"/>
<line x1="1175.77" y1="435.29" x2="1336.79" y2="274.27" stroke-width="0.9" stroke="#888"/>
<line x1="1179.66" y1="439.18" x2="1340.68" y2="278.16" stroke-width="0.9" stroke="#888"/>
<line x1="1183.54" y1="443.07" x2="1344.57" y2="282.04" stroke-width="0.9" stroke="#888"/>
<line x1="1187.43" y1="446.96" x2="1348.46" y2="285.93" stroke-width="0.9" stroke="#888"/>
<line x1="1191.32" y1="450.85" x2="1352.35" y2="289.82" stroke-width="0.9" stroke="#888"/>
<line x1="1195.21" y1="454.74" x2="1356.24" y2="293.71" stroke-width="0.9" stroke="#888"/>
<line x1="1199.1" y1="458.63" x2="1360.13" y2="297.6" stroke-width="0.9" stroke="#888"/>
<line x1="1202.99" y1="462.52" x2="1364.02" y2="301.49" stroke-width="0.9" stroke="#888"/>
<line x1="1206.88" y1="466.41" x2="1367.91" y2="305.38" stroke-width="0.9" stroke="#888"/>
<line x1="1210.77" y1="470.3" x2="1371.8" y2="309.27" stroke-width="0.9" stroke="#888"/>
<line x1="1214.66" y1="474.18" x2="1375.68" y2="313.16" stroke-width="0.9" stroke="#888"/>
<line x1="1218.55" y1="478.07" x2="1379.57" y2="317.05" stroke-width="0.9" stroke="#888"/>
</g>
<clipPath id="hc4"><path d="M1236,305 L1268,305 L1268,318.5 L1236,318.5 Z"/></clipPath>
<g clip-path="url(#hc4)">
<line x1="1199.53" y1="303.81" x2="1253.05" y2="258.91" stroke-width="1.4" stroke="#fff"/>
<line x1="1202.75" y1="307.64" x2="1256.26" y2="262.74" stroke-width="1.4" stroke="#fff"/>
<line x1="1205.96" y1="311.47" x2="1259.47" y2="266.57" stroke-width="1.4" stroke="#fff"/>
<line x1="1209.17" y1="315.3" x2="1262.69" y2="270.4" stroke-width="1.4" stroke="#fff"/>
<line x1="1212.39" y1="319.13" x2="1265.9" y2="274.23" stroke-width="1.4" stroke="#fff"/>
<line x1="1215.6" y1="322.96" x2="1269.11" y2="278.06" stroke-width="1.4" stroke="#fff"/>
<line x1="1218.82" y1="326.79" x2="1272.33" y2="281.89" stroke-width="1.4" stroke="#fff"/>
<line x1="1222.03" y1="330.62" x2="1275.54" y2="285.72" stroke-width="1.4" stroke="#fff"/>
<line x1="1225.24" y1="334.45" x2="1278.76" y2="289.55" stroke-width="1.4" stroke="#fff"/>
<line x1="1228.46" y1="338.28" x2="1281.97" y2="293.38" stroke-width="1.4" stroke="#fff"/>
<line x1="1231.67" y1="342.11" x2="1285.18" y2="297.21" stroke-width="1.4" stroke="#fff"/>
<line x1="1234.89" y1="345.94" x2="1288.4" y2="301.04" stroke-width="1.4" stroke="#fff"/>
<line x1="1238.1" y1="349.77" x2="1291.61" y2="304.87" stroke-width="1.4" stroke="#fff"/>
<line x1="1241.31" y1="353.6" x2="1294.83" y2="308.7" stroke-width="1.4" stroke="#fff"/>
<line x1="1244.53" y1="357.43" x2="1298.04" y2="312.53" stroke-width="1.4" stroke="#fff"/>
<line x1="1247.74" y1="361.26" x2="1301.25" y2="316.36" stroke-width="1.4" stroke="#fff"/>
<line x1="1250.95" y1="365.09" x2="1304.47" y2="320.19" stroke-width="1.4" stroke="#fff"/>
</g>
<path d="M1157,318.8 L1270,318.8 L1270,328 L1157,328 Z" stroke-width="2.6" fill="#fff" />
<line x1="1157" y1="305" x2="1157" y2="329" stroke-width="2.6" />
<path d="M1270,293.5 L1317.6,293.5 L1317.6,328.5 L1270,328.5 Z" stroke-width="2.8" fill="#fff" />
<rect x="1270" y="293.5" width="47.6" height="7.5" fill="#111"/>
<line x1="1277" y1="306" x2="1317" y2="306" stroke-width="2.2" />
<line x1="1277" y1="319" x2="1317" y2="319" stroke-width="2.2" />
<line x1="1276.5" y1="300" x2="1276.5" y2="328.5" stroke-width="2.2" />
<rect x="1217.4" y="229" width="28.8" height="33" fill="#fff"/>
<line x1="1217.4" y1="227" x2="1217.4" y2="262" stroke-width="3.4" />
<line x1="1246.2" y1="227" x2="1246.2" y2="262" stroke-width="3.4" />
<rect x="1217.4" y="244.4" width="28.8" height="4.2" fill="#111"/>
<rect x="1217.4" y="252" width="28.8" height="3" fill="#111"/>
<path d="M1215.3,215.7 L1248.3,215.7 L1248.3,227 L1215.3,227 Z" stroke-width="3.0999999999999996" fill="#fff" />
<path d="M1217.4,199 L1217.4,215.7 M1246.2,199 L1246.2,215.7" stroke-width="3.0999999999999996" fill="none" />
<line x1="1217.4" y1="206.2" x2="1246.2" y2="206.2" stroke-width="2.4" />
<path d="M1221.6,183.4 L1241.3,183.4 L1247.6,195.5 L1247.6,199 L1215.3,199 L1215.3,195.5 Z" stroke-width="3.0999999999999996" fill="#fff" />
<line x1="1231" y1="172" x2="1231" y2="179" stroke-width="2.6" />
<line x1="1231" y1="183" x2="1231" y2="262" stroke-width="3" stroke-dasharray="9 4"/>
<line x1="1216" y1="212" x2="1216" y2="372" stroke-width="4.1" />
<path d="M1069,329.3 C1053,350 1054,375 1067,391.7" stroke-width="3.8" fill="none" />
<clipPath id="hc5"><path d="M1067,391.7 C1051,410 1054,440 1073,455 C1089,440 1087,410 1067,391.7 Z"/></clipPath>
<g clip-path="url(#hc5)">
<line x1="954.3" y1="448.89" x2="1026.77" y2="312.61" stroke-width="2.8" stroke="#111"/>
<line x1="960.93" y1="452.41" x2="1033.39" y2="316.13" stroke-width="2.8" stroke="#111"/>
<line x1="967.55" y1="455.93" x2="1040.01" y2="319.65" stroke-width="2.8" stroke="#111"/>
<line x1="974.17" y1="459.45" x2="1046.63" y2="323.17" stroke-width="2.8" stroke="#111"/>
<line x1="980.79" y1="462.97" x2="1053.25" y2="326.69" stroke-width="2.8" stroke="#111"/>
<line x1="987.41" y1="466.49" x2="1059.88" y2="330.21" stroke-width="2.8" stroke="#111"/>
<line x1="994.04" y1="470.02" x2="1066.5" y2="333.73" stroke-width="2.8" stroke="#111"/>
<line x1="1000.66" y1="473.54" x2="1073.12" y2="337.25" stroke-width="2.8" stroke="#111"/>
<line x1="1007.28" y1="477.06" x2="1079.74" y2="340.77" stroke-width="2.8" stroke="#111"/>
<line x1="1013.9" y1="480.58" x2="1086.37" y2="344.3" stroke-width="2.8" stroke="#111"/>
<line x1="1020.52" y1="484.1" x2="1092.99" y2="347.82" stroke-width="2.8" stroke="#111"/>
<line x1="1027.15" y1="487.62" x2="1099.61" y2="351.34" stroke-width="2.8" stroke="#111"/>
<line x1="1033.77" y1="491.14" x2="1106.23" y2="354.86" stroke-width="2.8" stroke="#111"/>
<line x1="1040.39" y1="494.66" x2="1112.85" y2="358.38" stroke-width="2.8" stroke="#111"/>
<line x1="1047.01" y1="498.18" x2="1119.48" y2="361.9" stroke-width="2.8" stroke="#111"/>
<line x1="1053.63" y1="501.7" x2="1126.1" y2="365.42" stroke-width="2.8" stroke="#111"/>
<line x1="1060.26" y1="505.23" x2="1132.72" y2="368.94" stroke-width="2.8" stroke="#111"/>
<line x1="1066.88" y1="508.75" x2="1139.34" y2="372.46" stroke-width="2.8" stroke="#111"/>
<line x1="1073.5" y1="512.27" x2="1145.96" y2="375.98" stroke-width="2.8" stroke="#111"/>
<line x1="1080.12" y1="515.79" x2="1152.59" y2="379.51" stroke-width="2.8" stroke="#111"/>
<line x1="1086.75" y1="519.31" x2="1159.21" y2="383.03" stroke-width="2.8" stroke="#111"/>
<line x1="1093.37" y1="522.83" x2="1165.83" y2="386.55" stroke-width="2.8" stroke="#111"/>
<line x1="1099.99" y1="526.35" x2="1172.45" y2="390.07" stroke-width="2.8" stroke="#111"/>
<line x1="1106.61" y1="529.87" x2="1179.07" y2="393.59" stroke-width="2.8" stroke="#111"/>
<line x1="1113.23" y1="533.39" x2="1185.7" y2="397.11" stroke-width="2.8" stroke="#111"/>
</g>
<path d="M1067,391.7 C1051,410 1054,440 1073,455 C1089,440 1087,410 1067,391.7 Z" stroke-width="3.8" fill="none" />
<clipPath id="hc6"><path d="M1372,329.3 C1356,345 1357,375 1370,391.7 C1386,375 1388,345 1372,329.3 Z"/></clipPath>
<g clip-path="url(#hc6)">
<line x1="1265" y1="386.95" x2="1334.32" y2="256.59" stroke-width="2.8" stroke="#111"/>
<line x1="1271.62" y1="390.47" x2="1340.94" y2="260.11" stroke-width="2.8" stroke="#111"/>
<line x1="1278.24" y1="393.99" x2="1347.56" y2="263.63" stroke-width="2.8" stroke="#111"/>
<line x1="1284.86" y1="397.51" x2="1354.18" y2="267.15" stroke-width="2.8" stroke="#111"/>
<line x1="1291.49" y1="401.04" x2="1360.8" y2="270.67" stroke-width="2.8" stroke="#111"/>
<line x1="1298.11" y1="404.56" x2="1367.43" y2="274.19" stroke-width="2.8" stroke="#111"/>
<line x1="1304.73" y1="408.08" x2="1374.05" y2="277.71" stroke-width="2.8" stroke="#111"/>
<line x1="1311.35" y1="411.6" x2="1380.67" y2="281.23" stroke-width="2.8" stroke="#111"/>
<line x1="1317.98" y1="415.12" x2="1387.29" y2="284.75" stroke-width="2.8" stroke="#111"/>
<line x1="1324.6" y1="418.64" x2="1393.91" y2="288.28" stroke-width="2.8" stroke="#111"/>
<line x1="1331.22" y1="422.16" x2="1400.54" y2="291.8" stroke-width="2.8" stroke="#111"/>
<line x1="1337.84" y1="425.68" x2="1407.16" y2="295.32" stroke-width="2.8" stroke="#111"/>
<line x1="1344.46" y1="429.2" x2="1413.78" y2="298.84" stroke-width="2.8" stroke="#111"/>
<line x1="1351.09" y1="432.72" x2="1420.4" y2="302.36" stroke-width="2.8" stroke="#111"/>
<line x1="1357.71" y1="436.25" x2="1427.02" y2="305.88" stroke-width="2.8" stroke="#111"/>
<line x1="1364.33" y1="439.77" x2="1433.65" y2="309.4" stroke-width="2.8" stroke="#111"/>
<line x1="1370.95" y1="443.29" x2="1440.27" y2="312.92" stroke-width="2.8" stroke="#111"/>
<line x1="1377.57" y1="446.81" x2="1446.89" y2="316.44" stroke-width="2.8" stroke="#111"/>
<line x1="1384.2" y1="450.33" x2="1453.51" y2="319.96" stroke-width="2.8" stroke="#111"/>
<line x1="1390.82" y1="453.85" x2="1460.14" y2="323.49" stroke-width="2.8" stroke="#111"/>
<line x1="1397.44" y1="457.37" x2="1466.76" y2="327.01" stroke-width="2.8" stroke="#111"/>
<line x1="1404.06" y1="460.89" x2="1473.38" y2="330.53" stroke-width="2.8" stroke="#111"/>
<line x1="1410.68" y1="464.41" x2="1480" y2="334.05" stroke-width="2.8" stroke="#111"/>
</g>
<path d="M1372,329.3 C1356,345 1357,375 1370,391.7 C1386,375 1388,345 1372,329.3 Z" stroke-width="3.8" fill="none" />
<path d="M1370,391.7 C1389,410 1390,440 1372,455" stroke-width="3.8" fill="none" />
<defs><clipPath id="csr"><circle cx="1677.6" cy="270.9" r="97.5"/></clipPath><clipPath id="ctr"><circle cx="1683" cy="533.5" r="94.5"/></clipPath><pattern id="wsl" width="10" height="10" patternUnits="userSpaceOnUse" patternTransform="rotate(38)"><rect width="10" height="10" fill="#111"/><rect x="3" width="4.6" height="10" fill="#fff"/></pattern><pattern id="wsr" width="10.5" height="10.5" patternUnits="userSpaceOnUse" patternTransform="rotate(-40)"><rect width="10.5" height="10.5" fill="#111"/><rect x="3" width="4.8" height="10.5" fill="#fff"/></pattern></defs>
<g clip-path="url(#csr)">
<clipPath id="hc7"><path d="M1570,337 L1790,337 L1790,382 L1570,382 Z"/></clipPath>
<g clip-path="url(#hc7)">
<rect x="1570" y="337" width="220" height="45" fill="#111" stroke="none"/>
<line x1="1356.65" y1="407.22" x2="1614.25" y2="39.33" stroke-width="4.2" stroke="#fff"/>
<line x1="1364.43" y1="412.67" x2="1622.03" y2="44.78" stroke-width="4.2" stroke="#fff"/>
<line x1="1372.22" y1="418.12" x2="1629.81" y2="50.23" stroke-width="4.2" stroke="#fff"/>
<line x1="1380" y1="423.57" x2="1637.6" y2="55.68" stroke-width="4.2" stroke="#fff"/>
<line x1="1387.78" y1="429.02" x2="1645.38" y2="61.13" stroke-width="4.2" stroke="#fff"/>
<line x1="1395.56" y1="434.47" x2="1653.16" y2="66.58" stroke-width="4.2" stroke="#fff"/>
<line x1="1403.34" y1="439.91" x2="1660.94" y2="72.02" stroke-width="4.2" stroke="#fff"/>
<line x1="1411.13" y1="445.36" x2="1668.72" y2="77.47" stroke-width="4.2" stroke="#fff"/>
<line x1="1418.91" y1="450.81" x2="1676.51" y2="82.92" stroke-width="4.2" stroke="#fff"/>
<line x1="1426.69" y1="456.26" x2="1684.29" y2="88.37" stroke-width="4.2" stroke="#fff"/>
<line x1="1434.47" y1="461.71" x2="1692.07" y2="93.82" stroke-width="4.2" stroke="#fff"/>
<line x1="1442.25" y1="467.16" x2="1699.85" y2="99.27" stroke-width="4.2" stroke="#fff"/>
<line x1="1450.04" y1="472.61" x2="1707.63" y2="104.72" stroke-width="4.2" stroke="#fff"/>
<line x1="1457.82" y1="478.06" x2="1715.42" y2="110.17" stroke-width="4.2" stroke="#fff"/>
<line x1="1465.6" y1="483.51" x2="1723.2" y2="115.62" stroke-width="4.2" stroke="#fff"/>
<line x1="1473.38" y1="488.96" x2="1730.98" y2="121.07" stroke-width="4.2" stroke="#fff"/>
<line x1="1481.16" y1="494.4" x2="1738.76" y2="126.51" stroke-width="4.2" stroke="#fff"/>
<line x1="1488.94" y1="499.85" x2="1746.54" y2="131.96" stroke-width="4.2" stroke="#fff"/>
<line x1="1496.73" y1="505.3" x2="1754.33" y2="137.41" stroke-width="4.2" stroke="#fff"/>
<line x1="1504.51" y1="510.75" x2="1762.11" y2="142.86" stroke-width="4.2" stroke="#fff"/>
<line x1="1512.29" y1="516.2" x2="1769.89" y2="148.31" stroke-width="4.2" stroke="#fff"/>
<line x1="1520.07" y1="521.65" x2="1777.67" y2="153.76" stroke-width="4.2" stroke="#fff"/>
<line x1="1527.85" y1="527.1" x2="1785.45" y2="159.21" stroke-width="4.2" stroke="#fff"/>
<line x1="1535.64" y1="532.55" x2="1793.24" y2="164.66" stroke-width="4.2" stroke="#fff"/>
<line x1="1543.42" y1="538" x2="1801.02" y2="170.11" stroke-width="4.2" stroke="#fff"/>
<line x1="1551.2" y1="543.44" x2="1808.8" y2="175.56" stroke-width="4.2" stroke="#fff"/>
<line x1="1558.98" y1="548.89" x2="1816.58" y2="181" stroke-width="4.2" stroke="#fff"/>
<line x1="1566.76" y1="554.34" x2="1824.36" y2="186.45" stroke-width="4.2" stroke="#fff"/>
<line x1="1574.55" y1="559.79" x2="1832.15" y2="191.9" stroke-width="4.2" stroke="#fff"/>
<line x1="1582.33" y1="565.24" x2="1839.93" y2="197.35" stroke-width="4.2" stroke="#fff"/>
<line x1="1590.11" y1="570.69" x2="1847.71" y2="202.8" stroke-width="4.2" stroke="#fff"/>
<line x1="1597.89" y1="576.14" x2="1855.49" y2="208.25" stroke-width="4.2" stroke="#fff"/>
<line x1="1605.67" y1="581.59" x2="1863.27" y2="213.7" stroke-width="4.2" stroke="#fff"/>
<line x1="1613.46" y1="587.04" x2="1871.06" y2="219.15" stroke-width="4.2" stroke="#fff"/>
<line x1="1621.24" y1="592.49" x2="1878.84" y2="224.6" stroke-width="4.2" stroke="#fff"/>
<line x1="1629.02" y1="597.93" x2="1886.62" y2="230.04" stroke-width="4.2" stroke="#fff"/>
<line x1="1636.8" y1="603.38" x2="1894.4" y2="235.49" stroke-width="4.2" stroke="#fff"/>
<line x1="1644.58" y1="608.83" x2="1902.18" y2="240.94" stroke-width="4.2" stroke="#fff"/>
<line x1="1652.37" y1="614.28" x2="1909.96" y2="246.39" stroke-width="4.2" stroke="#fff"/>
<line x1="1660.15" y1="619.73" x2="1917.75" y2="251.84" stroke-width="4.2" stroke="#fff"/>
<line x1="1667.93" y1="625.18" x2="1925.53" y2="257.29" stroke-width="4.2" stroke="#fff"/>
<line x1="1675.71" y1="630.63" x2="1933.31" y2="262.74" stroke-width="4.2" stroke="#fff"/>
<line x1="1683.49" y1="636.08" x2="1941.09" y2="268.19" stroke-width="4.2" stroke="#fff"/>
<line x1="1691.28" y1="641.53" x2="1948.87" y2="273.64" stroke-width="4.2" stroke="#fff"/>
<line x1="1699.06" y1="646.98" x2="1956.66" y2="279.09" stroke-width="4.2" stroke="#fff"/>
<line x1="1706.84" y1="652.42" x2="1964.44" y2="284.53" stroke-width="4.2" stroke="#fff"/>
<line x1="1714.62" y1="657.87" x2="1972.22" y2="289.98" stroke-width="4.2" stroke="#fff"/>
<line x1="1722.4" y1="663.32" x2="1980" y2="295.43" stroke-width="4.2" stroke="#fff"/>
<line x1="1730.19" y1="668.77" x2="1987.78" y2="300.88" stroke-width="4.2" stroke="#fff"/>
<line x1="1737.97" y1="674.22" x2="1995.57" y2="306.33" stroke-width="4.2" stroke="#fff"/>
<line x1="1745.75" y1="679.67" x2="2003.35" y2="311.78" stroke-width="4.2" stroke="#fff"/>
</g>
<line x1="1570" y1="337.5" x2="1790" y2="337.5" stroke-width="3" />
<clipPath id="hc8"><path d="M1659.5,160 L1659.5,193 L1684,193 L1684,205.5 L1790,205.5 L1790,160 Z"/></clipPath>
<g clip-path="url(#hc8)">
<rect x="1659" y="160" width="131" height="46" fill="#111" stroke="none"/>
<line x1="1755.91" y1="-24.6" x2="1934.4" y2="188.12" stroke-width="4.8" stroke="#fff"/>
<line x1="1747.86" y1="-17.85" x2="1926.35" y2="194.87" stroke-width="4.8" stroke="#fff"/>
<line x1="1739.82" y1="-11.1" x2="1918.31" y2="201.62" stroke-width="4.8" stroke="#fff"/>
<line x1="1731.78" y1="-4.35" x2="1910.27" y2="208.37" stroke-width="4.8" stroke="#fff"/>
<line x1="1723.73" y1="2.4" x2="1902.22" y2="215.12" stroke-width="4.8" stroke="#fff"/>
<line x1="1715.69" y1="9.15" x2="1894.18" y2="221.87" stroke-width="4.8" stroke="#fff"/>
<line x1="1707.65" y1="15.9" x2="1886.14" y2="228.62" stroke-width="4.8" stroke="#fff"/>
<line x1="1699.6" y1="22.65" x2="1878.09" y2="235.36" stroke-width="4.8" stroke="#fff"/>
<line x1="1691.56" y1="29.4" x2="1870.05" y2="242.11" stroke-width="4.8" stroke="#fff"/>
<line x1="1683.52" y1="36.15" x2="1862.01" y2="248.86" stroke-width="4.8" stroke="#fff"/>
<line x1="1675.47" y1="42.89" x2="1853.96" y2="255.61" stroke-width="4.8" stroke="#fff"/>
<line x1="1667.43" y1="49.64" x2="1845.92" y2="262.36" stroke-width="4.8" stroke="#fff"/>
<line x1="1659.38" y1="56.39" x2="1837.88" y2="269.11" stroke-width="4.8" stroke="#fff"/>
<line x1="1651.34" y1="63.14" x2="1829.83" y2="275.86" stroke-width="4.8" stroke="#fff"/>
<line x1="1643.3" y1="69.89" x2="1821.79" y2="282.61" stroke-width="4.8" stroke="#fff"/>
<line x1="1635.25" y1="76.64" x2="1813.75" y2="289.36" stroke-width="4.8" stroke="#fff"/>
<line x1="1627.21" y1="83.39" x2="1805.7" y2="296.11" stroke-width="4.8" stroke="#fff"/>
<line x1="1619.17" y1="90.14" x2="1797.66" y2="302.86" stroke-width="4.8" stroke="#fff"/>
<line x1="1611.12" y1="96.89" x2="1789.62" y2="309.61" stroke-width="4.8" stroke="#fff"/>
<line x1="1603.08" y1="103.64" x2="1781.57" y2="316.36" stroke-width="4.8" stroke="#fff"/>
<line x1="1595.04" y1="110.39" x2="1773.53" y2="323.11" stroke-width="4.8" stroke="#fff"/>
<line x1="1586.99" y1="117.14" x2="1765.48" y2="329.85" stroke-width="4.8" stroke="#fff"/>
<line x1="1578.95" y1="123.89" x2="1757.44" y2="336.6" stroke-width="4.8" stroke="#fff"/>
<line x1="1570.91" y1="130.64" x2="1749.4" y2="343.35" stroke-width="4.8" stroke="#fff"/>
<line x1="1562.86" y1="137.38" x2="1741.35" y2="350.1" stroke-width="4.8" stroke="#fff"/>
<line x1="1554.82" y1="144.13" x2="1733.31" y2="356.85" stroke-width="4.8" stroke="#fff"/>
<line x1="1546.78" y1="150.88" x2="1725.27" y2="363.6" stroke-width="4.8" stroke="#fff"/>
<line x1="1538.73" y1="157.63" x2="1717.22" y2="370.35" stroke-width="4.8" stroke="#fff"/>
<line x1="1530.69" y1="164.38" x2="1709.18" y2="377.1" stroke-width="4.8" stroke="#fff"/>
<line x1="1522.65" y1="171.13" x2="1701.14" y2="383.85" stroke-width="4.8" stroke="#fff"/>
<line x1="1514.6" y1="177.88" x2="1693.09" y2="390.6" stroke-width="4.8" stroke="#fff"/>
</g>
</g>
<line x1="1659.5" y1="172" x2="1659.5" y2="193.5" stroke-width="3.2" />
<line x1="1659" y1="193" x2="1684" y2="193" stroke-width="3" />
<line x1="1716" y1="205.5" x2="1752" y2="205.5" stroke-width="3.2" />
<path d="M1682,193 L1717,190 L1717,234 L1713,234 L1713,222 L1697,222 L1697,266 L1733,266 Q1742,266 1742,276 L1742,305 Q1741,318 1725,323 Q1713,327 1714,336 L1693,336 Q1691,322 1705,316 Q1724,309 1726,300 L1726,296 Q1725,289 1717,289 L1697,289 Q1682,289 1682,276 Z" stroke-width="0" fill="#111" stroke="none"/>
<path d="M1706.5,234 L1706.5,266" stroke-width="3.5" fill="none" />
<path d="M1633,337 L1633,330.5 L1649.5,330.5 L1660,201 L1670.5,201 L1659,337" stroke-width="2.6" fill="none" />
<circle cx="1677.6" cy="270.9" r="99.2" stroke-width="4.2" fill="none" />
<g clip-path="url(#ctr)">
<clipPath id="hc9"><path d="M1580,600 L1790,600 L1790,640 L1580,640 Z"/></clipPath>
<g clip-path="url(#hc9)">
<rect x="1580" y="600" width="210" height="40" fill="#111" stroke="none"/>
<line x1="1375.62" y1="664.34" x2="1620.85" y2="314.11" stroke-width="4.0" stroke="#fff"/>
<line x1="1383.4" y1="669.79" x2="1628.63" y2="319.56" stroke-width="4.0" stroke="#fff"/>
<line x1="1391.18" y1="675.24" x2="1636.41" y2="325.01" stroke-width="4.0" stroke="#fff"/>
<line x1="1398.96" y1="680.69" x2="1644.2" y2="330.46" stroke-width="4.0" stroke="#fff"/>
<line x1="1406.74" y1="686.14" x2="1651.98" y2="335.91" stroke-width="4.0" stroke="#fff"/>
<line x1="1414.53" y1="691.58" x2="1659.76" y2="341.35" stroke-width="4.0" stroke="#fff"/>
<line x1="1422.31" y1="697.03" x2="1667.54" y2="346.8" stroke-width="4.0" stroke="#fff"/>
<line x1="1430.09" y1="702.48" x2="1675.32" y2="352.25" stroke-width="4.0" stroke="#fff"/>
<line x1="1437.87" y1="707.93" x2="1683.11" y2="357.7" stroke-width="4.0" stroke="#fff"/>
<line x1="1445.65" y1="713.38" x2="1690.89" y2="363.15" stroke-width="4.0" stroke="#fff"/>
<line x1="1453.44" y1="718.83" x2="1698.67" y2="368.6" stroke-width="4.0" stroke="#fff"/>
<line x1="1461.22" y1="724.28" x2="1706.45" y2="374.05" stroke-width="4.0" stroke="#fff"/>
<line x1="1469" y1="729.73" x2="1714.23" y2="379.5" stroke-width="4.0" stroke="#fff"/>
<line x1="1476.78" y1="735.18" x2="1722.02" y2="384.95" stroke-width="4.0" stroke="#fff"/>
<line x1="1484.56" y1="740.62" x2="1729.8" y2="390.4" stroke-width="4.0" stroke="#fff"/>
<line x1="1492.35" y1="746.07" x2="1737.58" y2="395.84" stroke-width="4.0" stroke="#fff"/>
<line x1="1500.13" y1="751.52" x2="1745.36" y2="401.29" stroke-width="4.0" stroke="#fff"/>
<line x1="1507.91" y1="756.97" x2="1753.14" y2="406.74" stroke-width="4.0" stroke="#fff"/>
<line x1="1515.69" y1="762.42" x2="1760.92" y2="412.19" stroke-width="4.0" stroke="#fff"/>
<line x1="1523.47" y1="767.87" x2="1768.71" y2="417.64" stroke-width="4.0" stroke="#fff"/>
<line x1="1531.26" y1="773.32" x2="1776.49" y2="423.09" stroke-width="4.0" stroke="#fff"/>
<line x1="1539.04" y1="778.77" x2="1784.27" y2="428.54" stroke-width="4.0" stroke="#fff"/>
<line x1="1546.82" y1="784.22" x2="1792.05" y2="433.99" stroke-width="4.0" stroke="#fff"/>
<line x1="1554.6" y1="789.67" x2="1799.83" y2="439.44" stroke-width="4.0" stroke="#fff"/>
<line x1="1562.38" y1="795.11" x2="1807.62" y2="444.89" stroke-width="4.0" stroke="#fff"/>
<line x1="1570.17" y1="800.56" x2="1815.4" y2="450.33" stroke-width="4.0" stroke="#fff"/>
<line x1="1577.95" y1="806.01" x2="1823.18" y2="455.78" stroke-width="4.0" stroke="#fff"/>
<line x1="1585.73" y1="811.46" x2="1830.96" y2="461.23" stroke-width="4.0" stroke="#fff"/>
<line x1="1593.51" y1="816.91" x2="1838.74" y2="466.68" stroke-width="4.0" stroke="#fff"/>
<line x1="1601.29" y1="822.36" x2="1846.53" y2="472.13" stroke-width="4.0" stroke="#fff"/>
<line x1="1609.08" y1="827.81" x2="1854.31" y2="477.58" stroke-width="4.0" stroke="#fff"/>
<line x1="1616.86" y1="833.26" x2="1862.09" y2="483.03" stroke-width="4.0" stroke="#fff"/>
<line x1="1624.64" y1="838.71" x2="1869.87" y2="488.48" stroke-width="4.0" stroke="#fff"/>
<line x1="1632.42" y1="844.16" x2="1877.65" y2="493.93" stroke-width="4.0" stroke="#fff"/>
<line x1="1640.2" y1="849.6" x2="1885.44" y2="499.38" stroke-width="4.0" stroke="#fff"/>
<line x1="1647.98" y1="855.05" x2="1893.22" y2="504.82" stroke-width="4.0" stroke="#fff"/>
<line x1="1655.77" y1="860.5" x2="1901" y2="510.27" stroke-width="4.0" stroke="#fff"/>
<line x1="1663.55" y1="865.95" x2="1908.78" y2="515.72" stroke-width="4.0" stroke="#fff"/>
<line x1="1671.33" y1="871.4" x2="1916.56" y2="521.17" stroke-width="4.0" stroke="#fff"/>
<line x1="1679.11" y1="876.85" x2="1924.35" y2="526.62" stroke-width="4.0" stroke="#fff"/>
<line x1="1686.89" y1="882.3" x2="1932.13" y2="532.07" stroke-width="4.0" stroke="#fff"/>
<line x1="1694.68" y1="887.75" x2="1939.91" y2="537.52" stroke-width="4.0" stroke="#fff"/>
<line x1="1702.46" y1="893.2" x2="1947.69" y2="542.97" stroke-width="4.0" stroke="#fff"/>
<line x1="1710.24" y1="898.65" x2="1955.47" y2="548.42" stroke-width="4.0" stroke="#fff"/>
<line x1="1718.02" y1="904.09" x2="1963.26" y2="553.86" stroke-width="4.0" stroke="#fff"/>
<line x1="1725.8" y1="909.54" x2="1971.04" y2="559.31" stroke-width="4.0" stroke="#fff"/>
<line x1="1733.59" y1="914.99" x2="1978.82" y2="564.76" stroke-width="4.0" stroke="#fff"/>
<line x1="1741.37" y1="920.44" x2="1986.6" y2="570.21" stroke-width="4.0" stroke="#fff"/>
<line x1="1749.15" y1="925.89" x2="1994.38" y2="575.66" stroke-width="4.0" stroke="#fff"/>
</g>
<line x1="1580" y1="599.5" x2="1790" y2="599.5" stroke-width="3.2" />
<clipPath id="hc10"><path d="M1695.5,425 L1697,463.5 L1702,468.8 L1712.5,468.8 L1723,479.5 L1734,492.5 L1790,492.5 L1790,425 Z"/></clipPath>
<g clip-path="url(#hc10)">
<rect x="1695" y="425" width="95" height="68" fill="#111" stroke="none"/>
<line x1="1771.97" y1="281.76" x2="1922.16" y2="460.76" stroke-width="4.8" stroke="#fff"/>
<line x1="1763.93" y1="288.51" x2="1914.12" y2="467.5" stroke-width="4.8" stroke="#fff"/>
<line x1="1755.88" y1="295.26" x2="1906.07" y2="474.25" stroke-width="4.8" stroke="#fff"/>
<line x1="1747.84" y1="302.01" x2="1898.03" y2="481" stroke-width="4.8" stroke="#fff"/>
<line x1="1739.8" y1="308.76" x2="1889.99" y2="487.75" stroke-width="4.8" stroke="#fff"/>
<line x1="1731.75" y1="315.51" x2="1881.94" y2="494.5" stroke-width="4.8" stroke="#fff"/>
<line x1="1723.71" y1="322.26" x2="1873.9" y2="501.25" stroke-width="4.8" stroke="#fff"/>
<line x1="1715.66" y1="329.01" x2="1865.86" y2="508" stroke-width="4.8" stroke="#fff"/>
<line x1="1707.62" y1="335.76" x2="1857.81" y2="514.75" stroke-width="4.8" stroke="#fff"/>
<line x1="1699.58" y1="342.51" x2="1849.77" y2="521.5" stroke-width="4.8" stroke="#fff"/>
<line x1="1691.53" y1="349.26" x2="1841.73" y2="528.25" stroke-width="4.8" stroke="#fff"/>
<line x1="1683.49" y1="356.01" x2="1833.68" y2="535" stroke-width="4.8" stroke="#fff"/>
<line x1="1675.45" y1="362.75" x2="1825.64" y2="541.75" stroke-width="4.8" stroke="#fff"/>
<line x1="1667.4" y1="369.5" x2="1817.6" y2="548.5" stroke-width="4.8" stroke="#fff"/>
<line x1="1659.36" y1="376.25" x2="1809.55" y2="555.25" stroke-width="4.8" stroke="#fff"/>
<line x1="1651.32" y1="383" x2="1801.51" y2="561.99" stroke-width="4.8" stroke="#fff"/>
<line x1="1643.27" y1="389.75" x2="1793.47" y2="568.74" stroke-width="4.8" stroke="#fff"/>
<line x1="1635.23" y1="396.5" x2="1785.42" y2="575.49" stroke-width="4.8" stroke="#fff"/>
<line x1="1627.19" y1="403.25" x2="1777.38" y2="582.24" stroke-width="4.8" stroke="#fff"/>
<line x1="1619.14" y1="410" x2="1769.34" y2="588.99" stroke-width="4.8" stroke="#fff"/>
<line x1="1611.1" y1="416.75" x2="1761.29" y2="595.74" stroke-width="4.8" stroke="#fff"/>
<line x1="1603.06" y1="423.5" x2="1753.25" y2="602.49" stroke-width="4.8" stroke="#fff"/>
<line x1="1595.01" y1="430.25" x2="1745.2" y2="609.24" stroke-width="4.8" stroke="#fff"/>
<line x1="1586.97" y1="437" x2="1737.16" y2="615.99" stroke-width="4.8" stroke="#fff"/>
<line x1="1578.93" y1="443.75" x2="1729.12" y2="622.74" stroke-width="4.8" stroke="#fff"/>
<line x1="1570.88" y1="450.5" x2="1721.07" y2="629.49" stroke-width="4.8" stroke="#fff"/>
<line x1="1562.84" y1="457.24" x2="1713.03" y2="636.24" stroke-width="4.8" stroke="#fff"/>
</g>
</g>
<path d="M1695.5,438 L1697,463.5 L1702,468.8 L1712.5,468.8 L1723,479.5" stroke-width="3" fill="none" />
<line x1="1734" y1="492.5" x2="1768" y2="492.5" stroke-width="3.4" />
<path d="M1711,523 L1730,497 L1730,472 Q1730,462 1723,462 Q1717,463 1718,470 Q1720,476 1726,473" stroke-width="5.5" fill="none" stroke-linecap="round"/>
<path d="M1711,523 L1730,497 L1730,472 Q1730,462 1723,462 Q1717,463 1718,470 Q1720,476 1726,473" stroke-width="1.5" fill="none" stroke="#fff" stroke-linecap="round"/>
<path d="M1643,528 Q1643,520 1651,520 L1716.5,520 L1716.5,571 L1707,571 L1706,584 L1699,599 L1660,599 Q1667,588 1668,571 L1643,571 Z" stroke-width="0" fill="#111" stroke="none"/>
<path d="M1684,575 Q1684,588 1675,598" stroke-width="1.6" fill="none" stroke="#fff"/>
<path d="M1696,575 Q1696,588 1688,598" stroke-width="1.6" fill="none" stroke="#fff"/>
<path d="M1642,553 L1630.5,570 L1630.5,598" stroke-width="5.5" fill="none" />
<path d="M1642,553 L1630.5,570 L1630.5,598" stroke-width="1.5" fill="none" stroke="#fff"/>
<circle cx="1683" cy="533.5" r="96.4" stroke-width="4.2" fill="none" />
<text x="1609" y="406" font-family="&quot;Liberation Sans&quot;, sans-serif" font-size="24.5" fill="#111" stroke="#111" stroke-width="0" letter-spacing="0.8">SR type seal</text>
<text x="1601.5" y="674" font-family="&quot;Liberation Sans&quot;, sans-serif" font-size="24.5" fill="#111" stroke="#111" stroke-width="0" letter-spacing="1.1">TRL type seal</text>
</svg></body></html>
